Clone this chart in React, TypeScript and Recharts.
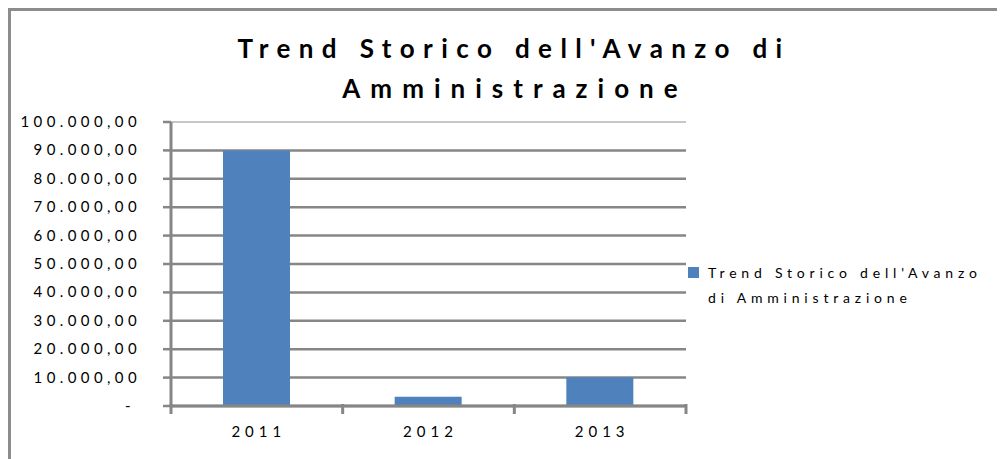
import { Bar, BarChart, CartesianGrid, Legend, XAxis, YAxis } from "recharts";

const years = ["2011", "2012", "2013"];
const avanzo = [90000, 3300, 10100];
const yTicks = [0, 10000, 20000, 30000, 40000, 50000, 60000, 70000, 80000, 90000, 100000];
const titleLines = ["Trend Storico dell'Avanzo di", "Amministrazione"];
const seriesName = "Trend Storico dell'Avanzo di Amministrazione";
const legendLines = ["Trend Storico dell'Avanzo", "di Amministrazione"];

const data = years.map((year, i) => ({ year, value: avanzo[i] }));

const W = 994;
const H = 448;
const PLOT_LEFT = 160;
const PLOT_TOP = 111;
const PLOT_W = 515;
const BAND = PLOT_W / years.length;
const FONT = "Lato, 'Open Sans', sans-serif";
const GRID = "#868686";

function fmt(v: number) {
  if (v === 0) return "-";
  const s = Math.round(v).toString().replace(/\B(?=(\d{3})+(?!\d))/g, ".");
  return s + ",00";
}

function YTick({ x, y, payload }: any) {
  const dash = payload.value === 0;
  return (
    <text x={dash ? x - 28 : x - 22} y={y} dy={5} textAnchor="end" fontFamily={FONT} fontSize={15} fill="#000" style={{ letterSpacing: 4.4 }}>
      {fmt(payload.value)}
    </text>
  );
}

function XTick({ x, y, payload, index }: any) {
  const axisY = y - 2;
  return (
    <g>
      <line x1={x - BAND / 2} x2={x - BAND / 2} y1={axisY - 2} y2={axisY + 8} stroke={GRID} strokeWidth={3} />
      {index === years.length - 1 && (
        <line x1={x + BAND / 2} x2={x + BAND / 2} y1={axisY - 2} y2={axisY + 8} stroke={GRID} strokeWidth={3} />
      )}
      <text x={x + 2} y={axisY + 31} textAnchor="middle" fontFamily={FONT} fontSize={15} fill="#000" style={{ letterSpacing: 5 }}>
        {payload.value}
      </text>
    </g>
  );
}

function GridLine(p: any) {
  const top = Math.abs(p.y1 - PLOT_TOP) < 1;
  return <line key={p.key} x1={p.x1} x2={p.x2} y1={p.y1} y2={p.y2} stroke={top ? "#b4b4b4" : GRID} strokeWidth={top ? 1.5 : 2.5} />;
}

function LegendBox() {
  return (
    <div style={{ width: 300, fontFamily: FONT, fontSize: 14, color: "#000", letterSpacing: 4.8, lineHeight: "25px", position: "relative" }}>
      <span style={{ position: "absolute", left: 0, top: 7, width: 11, height: 11, background: "#4F81BD" }} />
      <div style={{ paddingLeft: 20 }}>
        <div>{legendLines[0]}</div>
        <div>{legendLines[1]}</div>
      </div>
    </div>
  );
}

export default function App() {
  return (
    <div style={{ width: 994, height: 448, borderLeft: "3px solid #8c8c8c", borderTop: "3px solid #8c8c8c", overflow: "hidden", background: "#fff" }}>
      <style>{"html, body { overflow: hidden; }"}</style>
      <BarChart width={W} height={H} data={data} margin={{ top: PLOT_TOP, right: W - PLOT_LEFT - PLOT_W, left: 0, bottom: 23 }}>
        <text x={503} y={47} textAnchor="middle" fontFamily={FONT} fontWeight={700} fontSize={26} fill="#000" style={{ letterSpacing: 8.4 }}>
          {titleLines[0]}
        </text>
        <text x={504} y={87} textAnchor="middle" fontFamily={FONT} fontWeight={700} fontSize={26} fill="#000" style={{ letterSpacing: 10 }}>
          {titleLines[1]}
        </text>
        <CartesianGrid vertical={false} horizontal={GridLine} />
        <YAxis
          width={PLOT_LEFT}
          domain={[0, 100000]}
          ticks={yTicks}
          interval={0}
          tickSize={8}
          tickMargin={0}
          tick={<YTick />}
          axisLine={{ stroke: GRID, strokeWidth: 3 }}
          tickLine={{ stroke: GRID, strokeWidth: 2.5 }}
        />
        <XAxis
          dataKey="year"
          height={30}
          tickSize={0}
          tickMargin={2}
          tick={<XTick />}
          axisLine={{ stroke: GRID, strokeWidth: 3 }}
          tickLine={false}
        />
        <Legend
          layout="vertical"
          align="center"
          verticalAlign="middle"
          wrapperStyle={{ left: 677, top: 249, width: 300 }}
          content={() => <LegendBox />}
        />
        <Bar dataKey="value" name={seriesName} fill="#4F81BD" barSize={67} isAnimationActive={false} />
      </BarChart>
    </div>
  );
}
